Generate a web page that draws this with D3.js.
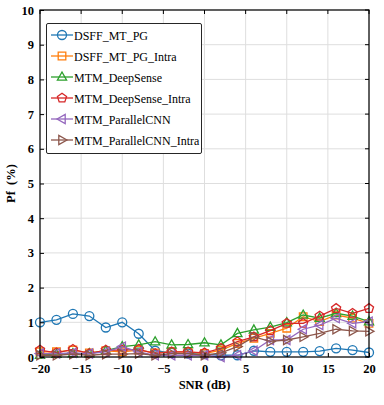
<!DOCTYPE html>
<html>
<head>
<meta charset="utf-8">
<script src="https://cdn.jsdelivr.net/npm/d3@7"></script>
<style>
  body { margin: 0; background: #fff; }
  svg { display: block; }
  svg text { font-family: "Liberation Serif", "DejaVu Serif", serif; }
</style>
</head>
<body>
<svg></svg>
<script>
// data
let snr = [-20, -18, -16, -14, -12, -10, -8, -6, -4, -2, 0, 2, 4, 6, 8, 10, 12, 14, 16, 18, 20]
let names = ['DSFF_MT_PG', 'DSFF_MT_PG_Intra', 'MTM_DeepSense', 'MTM_DeepSense_Intra', 'MTM_ParallelCNN', 'MTM_ParallelCNN_Intra']
let dsff = [1.0, 1.07, 1.24, 1.18, 0.85, 1.0, 0.67, 0.18, 0.12, 0.1, 0.08, 0.05, 0.05, 0.18, 0.15, 0.15, 0.15, 0.17, 0.25, 0.2, 0.13]
let dsffIntra = [0.15, 0.15, 0.2, 0.12, 0.18, 0.15, 0.2, 0.12, 0.15, 0.15, 0.1, 0.2, 0.39, 0.54, 0.68, 0.83, 1.16, 1.02, 1.21, 1.12, 0.97]
let deepSense = [0.05, 0.08, 0.1, 0.1, 0.18, 0.3, 0.35, 0.44, 0.35, 0.36, 0.41, 0.35, 0.68, 0.78, 0.86, 0.99, 1.21, 1.12, 1.26, 1.18, 1.02]
let deepSenseIntra = [0.2, 0.12, 0.22, 0.1, 0.2, 0.2, 0.22, 0.1, 0.15, 0.15, 0.12, 0.25, 0.44, 0.58, 0.76, 0.97, 0.97, 1.18, 1.4, 1.26, 1.4]
let parallel = [0.1, 0.1, 0.12, 0.1, 0.15, 0.3, 0.15, 0.05, 0.05, 0.05, 0.05, 0.0, 0.05, 0.18, 0.49, 0.49, 0.8, 0.92, 1.12, 0.97, 1.02]
let parallelIntra = [0.05, 0.05, 0.08, 0.05, 0.08, 0.08, 0.1, 0.05, 0.1, 0.1, 0.05, 0.12, 0.3, 0.58, 0.45, 0.49, 0.58, 0.68, 0.8, 0.75, 0.74]
let xTicks = [-20, -15, -10, -5, 0, 5, 10, 15, 20]
let yTicks = [0, 1, 2, 3, 4, 5, 6, 7, 8, 9, 10]

let allSeries = [dsff, dsffIntra, deepSense, deepSenseIntra, parallel, parallelIntra]
let colors = ['#1f77b4', '#ff7f0e', '#2ca02c', '#d62728', '#9467bd', '#8c564b']
let markers = ['circle', 'square', 'up', 'pentagon', 'left', 'right']

let width = 384
let height = 405
let plotLeft = 40, plotRight = 369, plotTop = 10, plotBottom = 357
let serif = '"Liberation Serif", "DejaVu Serif", serif'

let svg = d3.select('svg').attr('width', width).attr('height', height)

let xScale = d3.scaleLinear().domain([-20, 20]).range([plotLeft, plotRight])
let yScale = d3.scaleLinear().domain([0, 10]).range([plotBottom, plotTop])

//grid
svg.append('g').selectAll('line').data(xTicks).enter().append('line')
    .attr('x1', d => xScale(d)).attr('x2', d => xScale(d))
    .attr('y1', plotTop).attr('y2', plotBottom)
    .attr('stroke', '#dedede').attr('stroke-width', 1)
svg.append('g').selectAll('line').data(yTicks).enter().append('line')
    .attr('y1', d => yScale(d)).attr('y2', d => yScale(d))
    .attr('x1', plotLeft).attr('x2', plotRight)
    .attr('stroke', '#dedede').attr('stroke-width', 1)

// marker path at (0,0)
let markerPath = (type) => {
    let r = 4.5
    if (type === 'circle') return d3.symbol(d3.symbolCircle, Math.PI * r * r)()
    if (type === 'square') return 'M-3.8,-3.8H3.8V3.8H-3.8Z'
    let pts
    if (type === 'up') pts = [[0, -5], [4.6, 3.2], [-4.6, 3.2]]
    if (type === 'left') pts = [[-5, 0], [3.2, -4.6], [3.2, 4.6]]
    if (type === 'right') pts = [[5, 0], [-3.2, -4.6], [-3.2, 4.6]]
    if (type === 'pentagon') {
        pts = d3.range(5).map(i => {
            let a = -Math.PI / 2 + i * 2 * Math.PI / 5
            return [4.8 * Math.cos(a), 4.8 * Math.sin(a)]
        })
    }
    return 'M' + pts.map(p => p.join(',')).join('L') + 'Z'
}

let line = d3.line().x((d, i) => xScale(snr[i])).y(d => yScale(d))

let plot = svg.append('g')
allSeries.forEach((vals, k) => {
    let g = plot.append('g')
    g.append('path').datum(vals)
        .attr('d', line)
        .attr('fill', 'none')
        .attr('stroke', colors[k])
        .attr('stroke-width', 1.3)
    g.selectAll('path.m').data(vals).enter().append('path')
        .attr('class', 'm')
        .attr('d', markerPath(markers[k]))
        .attr('transform', (d, i) => 'translate(' + xScale(snr[i]) + ',' + yScale(d) + ')')
        .attr('fill', 'none')
        .attr('stroke', colors[k])
        .attr('stroke-width', 1.3)
})

//axes
let xAxis = d3.axisBottom(xScale).tickValues(xTicks).tickSize(-4).tickPadding(7).tickFormat(d => d < 0 ? '\u2212' + (-d) : d)
let yAxis = d3.axisLeft(yScale).tickValues(yTicks).tickSize(-4).tickPadding(6)

let gx = svg.append('g').attr('transform', 'translate(0,' + plotBottom + ')').call(xAxis)
let gy = svg.append('g').attr('transform', 'translate(' + plotLeft + ',0)').call(yAxis)
;[gx, gy].forEach(g => {
    g.attr('font-family', serif)
    g.select('.domain').remove()
    g.selectAll('line').attr('stroke', '#000')
    g.selectAll('text').attr('fill', '#000').style('font-size', '12.5px').style('font-weight', 'bold')
        .style('font-family', serif)
})
// top/right ticks
svg.append('g').selectAll('line').data(xTicks).enter().append('line')
    .attr('x1', d => xScale(d)).attr('x2', d => xScale(d))
    .attr('y1', plotTop).attr('y2', plotTop + 4).attr('stroke', '#000')
svg.append('g').selectAll('line').data(yTicks).enter().append('line')
    .attr('y1', d => yScale(d)).attr('y2', d => yScale(d))
    .attr('x1', plotRight).attr('x2', plotRight - 4).attr('stroke', '#000')

svg.append('rect')
    .attr('x', plotLeft).attr('y', plotTop)
    .attr('width', plotRight - plotLeft).attr('height', plotBottom - plotTop)
    .attr('fill', 'none').attr('stroke', '#000').attr('stroke-width', 1.2)

//labels
svg.append('text')
    .attr('x', (plotLeft + plotRight) / 2).attr('y', 389)
    .attr('text-anchor', 'middle')
    .style('font-family', serif)
    .style('font-size', '12.5px').style('font-weight', 'bold')
    .text('SNR (dB)')
svg.append('text')
    .attr('transform', 'translate(15,' + ((plotTop + plotBottom) / 2) + ') rotate(-90)')
    .attr('text-anchor', 'middle')
    .style('font-family', serif)
    .style('font-size', '12.5px').style('font-weight', 'bold')
    .text('Pf\u2002(%)')

//legend
let legend = svg.append('g')
legend.append('rect')
    .attr('x', 46.5).attr('y', 23.5).attr('width', 155).attr('height', 130)
    .attr('fill', '#fff').attr('stroke', '#262626').attr('stroke-width', 1)
    .attr('rx', 1.5)
names.forEach((n, k) => {
    let y = 35 + k * 21
    legend.append('line').attr('x1', 51).attr('x2', 73).attr('y1', y).attr('y2', y)
        .attr('stroke', colors[k]).attr('stroke-width', 1.3)
    legend.append('path').attr('d', markerPath(markers[k]))
        .attr('transform', 'translate(62,' + y + ')')
        .attr('fill', 'none').attr('stroke', colors[k]).attr('stroke-width', 1.3)
    legend.append('text').attr('x', 74).attr('y', y + 4.5)
        .style('font-family', serif)
        .style('font-size', '12px')
        .text(n)
})
</script>
</body>
</html>
